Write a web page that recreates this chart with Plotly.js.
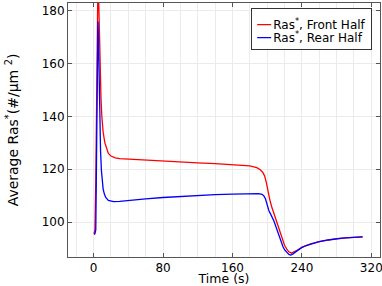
<!DOCTYPE html>
<html><head><meta charset="utf-8">
<script src="https://cdn.plot.ly/plotly-3.0.1.min.js"></script>
<style>html,body{margin:0;padding:0;background:#fff}#plot{width:382px;height:286px}</style>
</head><body><div id="plot"></div>
<script>
const frontTime = [0.5,1.5,2.5,3.5,4.3,5.0,5.8,6.5,7.5,8.5,9.5,11,13,15,17,20,25,30,40,60,80,100,120,140,160,180,188,192,195,197,199,201,203,205,208,210,213,215,218,220,223,225,228,231,235,240,245,250,260,270,280,290,300,310];
const frontVals = [95.5,97,115,150,185,192,185,172,158,147,140,134,130,127.5,126,125,124.3,124,123.8,123.4,123,122.7,122.4,122.1,121.8,121.3,120.6,119.8,118.8,117.5,115,111.5,108.5,106,103,101,98,96,93,91.2,89.5,88.7,88.2,88.6,89.4,90.4,91.1,91.7,92.6,93.2,93.7,94,94.2,94.4];
const rearTime = [0.5,1.5,2.5,3.3,4.2,5.0,5.6,6.2,7,8,9,10,11,12.5,14,17,20,23,30,40,60,80,100,120,140,160,180,190,194,196,198,200,202,204,206,208,210,213,215,218,220,223,225,227,229,232,235,240,245,250,260,270,280,290,300,310];
const rearVals = [95.3,95.5,97,120,160,176,170,155,139,127,119.5,115,112.5,110.5,109.3,108.2,107.8,107.7,107.8,108.2,108.8,109.3,109.7,110.1,110.4,110.6,110.8,110.8,110.5,110,108.8,106.5,104.3,103,101.8,100.2,98.3,95.2,93.3,90.8,89.5,88.2,87.7,87.5,87.7,88.5,89.3,90.4,91.1,91.7,92.6,93.2,93.7,94,94.2,94.4];
const seriesNames = ['Ras<sup>*</sup>, Front Half','Ras<sup>*</sup>, Rear Half'];
const xTicks = [0,80,160,240,320];
const yTicks = [100,120,140,160,180];

const font = {family:'DejaVu Sans, sans-serif', size:12, color:'#000'};
const axisCommon = {
  showline:true, linecolor:'#555', linewidth:1, mirror:'ticks',
  ticks:'inside', ticklen:4, tickcolor:'#555',
  showgrid:true, gridcolor:'#ebebeb', gridwidth:1, zeroline:false,
  tickfont:font, ticklabeloverflow:'allow'
};
const traces = [
  {x:frontTime, y:frontVals, name:seriesNames[0], mode:'lines', line:{color:'#ff0000', width:1.3}},
  {x:rearTime, y:rearVals, name:seriesNames[1], mode:'lines', line:{color:'#0000ff', width:1.3}}
];
const layout = {
  width:382, height:286,
  margin:{l:68, r:2, t:3, b:29},
  paper_bgcolor:'#fff', plot_bgcolor:'#fff',
  font:font,
  showlegend:true,
  legend:{x:0.975, xanchor:'right', y:0.982, yanchor:'top', bordercolor:'#333', borderwidth:1, bgcolor:'#fff', font:{family:'DejaVu Sans, sans-serif', size:12}, tracegroupgap:0},
  xaxis:Object.assign({}, axisCommon, {
    range:[-29.5,330], tickvals:xTicks, ticktext:xTicks.map(String),
    minor:{dtick:20, tick0:0, showgrid:true, gridcolor:'#ebebeb', ticks:''},
    title:{text:'Time (s)', font:{family:'DejaVu Sans, sans-serif', size:12.5}, standoff:8},
    automargin:false
  }),
  yaxis:Object.assign({}, axisCommon, {
    range:[86.75,183], tickvals:yTicks, ticktext:yTicks.map(String),
    title:{text:'Average Ras<sup>*</sup>(#/µm <sup>2</sup>)', font:{family:'DejaVu Sans, sans-serif', size:14}, standoff:19},
    automargin:false
  })
};
function parseTr(s){
  const m = (s||'').match(/translate\(\s*([-\d.e]+)[\s,]+([-\d.e]+)\s*\)/);
  return m ? [parseFloat(m[1]), parseFloat(m[2])] : [0,0];
}
Plotly.newPlot('plot', traces, layout, {staticPlot:true, displayModeBar:false}).then(function(gd){
  // compact legend like the reference: short sample lines, tight rows
  const shrink = 19;
  const leg = gd.querySelector('g.legend');
  if (!leg) return;
  const root = gd.getBoundingClientRect();
  const lp = parseTr(leg.getAttribute('transform'));
  leg.setAttribute('transform', 'translate(' + (lp[0] + shrink) + ',' + lp[1] + ')');
  const bg = leg.querySelector('rect.bg');
  if (bg) {
    bg.setAttribute('width', String(parseFloat(bg.getAttribute('width')) - shrink));
    bg.setAttribute('height', '41');
  }
  const bgTop = bg ? bg.getBoundingClientRect().top - root.top : 7;
  const targetLine = [bgTop + 16.6, bgTop + 29.6];
  const items = leg.querySelectorAll('g.traces');
  items.forEach(function(it, i){
    const path = it.querySelector('path.js-line');
    it.querySelectorAll('path.js-line').forEach(function(p){ p.setAttribute('d','M5,0h14'); });
    const t = it.querySelector('text.legendtext');
    if (t) {
      t.setAttribute('x', String(parseFloat(t.getAttribute('x')) - shrink));
      t.querySelectorAll('tspan[x]').forEach(function(ts){ ts.setAttribute('x', String(parseFloat(ts.getAttribute('x')) - shrink)); });
    }
    if (path) {
      const r = path.getBoundingClientRect();
      const cur = (r.top + r.bottom) / 2 - root.top;
      const p = parseTr(it.getAttribute('transform'));
      it.setAttribute('transform', 'translate(' + p[0] + ',' + (p[1] + targetLine[i] - cur) + ')');
    }
  });
});
</script></body></html>
